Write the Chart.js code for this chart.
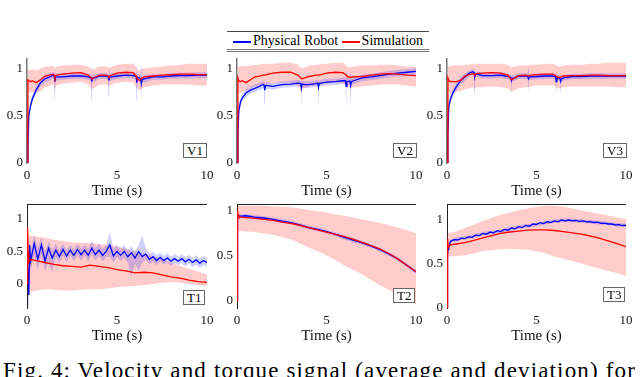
<!DOCTYPE html>
<html>
<head>
<meta charset="utf-8">
<script src="https://cdn.jsdelivr.net/npm/chart.js@4.4.1/dist/chart.umd.min.js"></script>
<style>
  html, body { margin: 0; padding: 0; background: #fff; }
  body { width: 640px; height: 377px; position: relative; overflow: hidden;
         font-family: 'Liberation Serif', 'DejaVu Serif', serif; color: #000; }
  canvas { position: absolute; }
  .tag { position: absolute; border: 1px solid #666; background: #fff; font-size: 13px;
         line-height: 13px; padding: 0 3px; }
  #legend { position: absolute; left: 227px; top: 31px; width: 202px; height: 17px;
            border-top: 1px solid #444; border-bottom: 3px double #777; font-size: 14px;
            line-height: 17px; text-align: center; white-space: nowrap; }
  #legend .sw { display: inline-block; width: 18px; height: 2px; vertical-align: middle; margin-right: 2px; }
  #caption { position: absolute; left: 3px; top: 359px; font-size: 23px; line-height: 23px;
             letter-spacing: 1.15px; white-space: nowrap; }
</style>
</head>
<body>
<div id="legend"><span class="sw" style="background:#00f"></span>Physical Robot <span class="sw" style="background:#f00"></span>Simulation</div>

<canvas id="v1"></canvas>
<canvas id="v2"></canvas>
<canvas id="v3"></canvas>
<canvas id="t1"></canvas>
<canvas id="t2"></canvas>
<canvas id="t3"></canvas>

<div class="tag" style="left:183px; top:143px">V1</div>
<div class="tag" style="left:393px; top:143px">V2</div>
<div class="tag" style="left:603px; top:143px">V3</div>
<div class="tag" style="left:183px; top:290px">T1</div>
<div class="tag" style="left:393px; top:288px">T2</div>
<div class="tag" style="left:603px; top:287px">T3</div>

<div id="caption">Fig. 4: Velocity and torque signal (average and deviation) for</div>

<script>
// time stamps (s)
const tV = [0, 0.05, 0.1, 0.2, 0.3, 0.5, 0.75, 1, 1.25, 1.45,
            1.51, 1.55, 1.59, 1.65, 2, 2.5, 3, 3.4, 3.56, 3.6, 3.64, 3.8,
            4, 4.4, 4.51, 4.55, 4.59, 4.7, 5, 5.5, 5.9,
            6.06, 6.1, 6.14, 6.25, 6.31, 6.35, 6.39, 6.5, 7, 7.5, 8, 8.5, 9, 9.5, 10];
const tF = [0, 0.03, 0.06, 0.1, 0.15, 0.2, 0.4, 0.6, 0.8, 1, 1.2, 1.4, 1.6, 1.8, 2, 2.2, 2.4, 2.6, 2.8, 3, 3.2, 3.4, 3.6, 3.8, 4, 4.2, 4.4, 4.6, 4.8, 5, 5.2, 5.4, 5.6, 5.8, 6, 6.2, 6.4, 6.6, 6.8, 7, 7.2, 7.4, 7.6, 7.8, 8, 8.2, 8.4, 8.6, 8.8, 9, 9.2, 9.4, 9.6, 9.8, 10];
const tC = [0, 0.03, 0.06, 0.1, 0.2, 0.5, 1, 1.5, 2, 2.5, 3, 3.5, 4, 4.5, 5, 5.5, 6, 6.5, 7, 7.5, 8, 8.5, 9, 9.5, 10];

const xTicks = [0, 5, 10];
const yTicks = [0, 0.5, 1];

// V1
const v1Red    = [0, 0.88, 0.87, 0.86, 0.87, 0.85, 0.88, 0.92, 0.93, 0.94, 0.93, 0.9, 0.92, 0.93, 0.94, 0.95, 0.955, 0.93, 0.9, 0.89, 0.895, 0.91, 0.93, 0.93, 0.92, 0.91, 0.92, 0.93, 0.95, 0.96, 0.955, 0.92, 0.9, 0.89, 0.875, 0.88, 0.89, 0.9, 0.91, 0.92, 0.93, 0.935, 0.94, 0.94, 0.935, 0.935];
const v1RedHi  = [0, 1.0, 0.99, 0.98, 0.99, 0.98, 1.0, 1.02, 1.02, 1.03, 1.02, 1.0, 1.01, 1.02, 1.03, 1.04, 1.04, 1.02, 1.0, 0.99, 0.99, 1.0, 1.02, 1.02, 1.01, 1.0, 1.01, 1.02, 1.04, 1.05, 1.05, 1.02, 1.0, 0.99, 0.98, 0.985, 0.99, 0.995, 1.0, 1.01, 1.02, 1.03, 1.04, 1.05, 1.05, 1.05];
const v1RedLo  = [0, 0.76, 0.75, 0.74, 0.75, 0.74, 0.76, 0.8, 0.82, 0.83, 0.81, 0.79, 0.8, 0.82, 0.84, 0.85, 0.86, 0.83, 0.79, 0.78, 0.785, 0.8, 0.83, 0.83, 0.82, 0.81, 0.82, 0.83, 0.85, 0.86, 0.85, 0.81, 0.8, 0.78, 0.77, 0.775, 0.78, 0.79, 0.8, 0.82, 0.83, 0.83, 0.83, 0.83, 0.82, 0.82];
const v1Blue   = [0, 0.15, 0.5, 0.61, 0.68, 0.77, 0.85, 0.89, 0.91, 0.93, 0.92, 0.86, 0.91, 0.91, 0.91, 0.92, 0.92, 0.91, 0.9, 0.86, 0.9, 0.9, 0.92, 0.92, 0.915, 0.87, 0.91, 0.91, 0.92, 0.93, 0.925, 0.92, 0.85, 0.9, 0.9, 0.89, 0.84, 0.88, 0.89, 0.91, 0.91, 0.92, 0.925, 0.925, 0.93, 0.93];
const v1BlueHi = [0, 0.2, 0.55, 0.65, 0.72, 0.81, 0.89, 0.93, 0.95, 0.96, 0.95, 1.0, 0.94, 0.95, 0.95, 0.95, 0.95, 0.94, 0.93, 1.09, 0.93, 0.94, 0.95, 0.95, 0.945, 1.1, 0.94, 0.95, 0.95, 0.96, 0.955, 0.95, 1.06, 0.93, 0.94, 0.92, 1.05, 0.91, 0.93, 0.94, 0.94, 0.95, 0.955, 0.955, 0.96, 0.96];
const v1BlueLo = [0, 0.1, 0.45, 0.57, 0.64, 0.73, 0.81, 0.85, 0.87, 0.9, 0.89, 0.68, 0.88, 0.87, 0.88, 0.89, 0.89, 0.88, 0.87, 0.66, 0.87, 0.86, 0.89, 0.89, 0.885, 0.7, 0.88, 0.87, 0.89, 0.9, 0.895, 0.89, 0.66, 0.87, 0.86, 0.86, 0.66, 0.85, 0.85, 0.88, 0.88, 0.89, 0.895, 0.895, 0.9, 0.9];

// V2
const v2Red    = [0, 0.9, 0.87, 0.86, 0.87, 0.85, 0.88, 0.91, 0.92, 0.93, 0.93, 0.93, 0.932, 0.935, 0.95, 0.96, 0.96, 0.93, 0.9, 0.89, 0.893, 0.9, 0.915, 0.93, 0.93, 0.93, 0.932, 0.935, 0.95, 0.96, 0.955, 0.935, 0.93, 0.92, 0.91, 0.907, 0.905, 0.907, 0.91, 0.915, 0.93, 0.94, 0.945, 0.94, 0.93, 0.925];
const v2RedHi  = [0, 1.02, 1.02, 1.02, 1.03, 1.02, 1.03, 1.04, 1.04, 1.05, 1.05, 1.05, 1.05, 1.05, 1.05, 1.06, 1.06, 1.04, 1.01, 1.0, 1.005, 1.01, 1.03, 1.04, 1.04, 1.04, 1.045, 1.05, 1.05, 1.06, 1.06, 1.04, 1.03, 1.02, 1.01, 1.01, 1.01, 1.015, 1.02, 1.03, 1.03, 1.04, 1.04, 1.03, 1.02, 1.02];
const v2RedLo  = [0, 0.78, 0.74, 0.74, 0.76, 0.76, 0.79, 0.81, 0.82, 0.83, 0.83, 0.83, 0.83, 0.83, 0.845, 0.85, 0.85, 0.82, 0.79, 0.78, 0.785, 0.79, 0.81, 0.82, 0.82, 0.82, 0.825, 0.83, 0.84, 0.85, 0.85, 0.83, 0.82, 0.81, 0.8, 0.8, 0.8, 0.8, 0.8, 0.81, 0.82, 0.83, 0.83, 0.83, 0.82, 0.81];
const v2Blue   = [0, 0.3, 0.55, 0.65, 0.69, 0.74, 0.77, 0.79, 0.81, 0.83, 0.825, 0.77, 0.815, 0.82, 0.81, 0.83, 0.835, 0.845, 0.84, 0.79, 0.835, 0.83, 0.83, 0.84, 0.845, 0.8, 0.84, 0.845, 0.855, 0.86, 0.87, 0.87, 0.81, 0.86, 0.865, 0.865, 0.82, 0.86, 0.87, 0.9, 0.91, 0.925, 0.94, 0.95, 0.96, 0.97];
const v2BlueHi = [0, 0.35, 0.6, 0.69, 0.73, 0.78, 0.81, 0.83, 0.85, 0.87, 0.86, 0.83, 0.85, 0.855, 0.845, 0.865, 0.87, 0.88, 0.875, 0.86, 0.87, 0.865, 0.865, 0.875, 0.88, 0.87, 0.875, 0.88, 0.89, 0.895, 0.905, 0.905, 1.0, 0.895, 0.9, 0.9, 0.98, 0.895, 0.905, 0.935, 0.945, 0.96, 0.975, 0.985, 0.995, 1.005];
const v2BlueLo = [0, 0.25, 0.5, 0.61, 0.65, 0.7, 0.73, 0.75, 0.77, 0.79, 0.79, 0.62, 0.78, 0.785, 0.775, 0.795, 0.8, 0.81, 0.805, 0.6, 0.8, 0.795, 0.795, 0.805, 0.81, 0.6, 0.805, 0.81, 0.82, 0.825, 0.835, 0.835, 0.6, 0.825, 0.83, 0.83, 0.6, 0.825, 0.835, 0.865, 0.875, 0.89, 0.905, 0.915, 0.925, 0.935];

// V3
const v3Red    = [0, 0.9, 0.87, 0.86, 0.86, 0.86, 0.87, 0.92, 0.935, 0.945, 0.94, 0.93, 0.94, 0.945, 0.95, 0.955, 0.95, 0.93, 0.89, 0.88, 0.885, 0.9, 0.925, 0.93, 0.925, 0.92, 0.925, 0.93, 0.935, 0.94, 0.94, 0.925, 0.92, 0.91, 0.905, 0.907, 0.91, 0.915, 0.92, 0.925, 0.925, 0.93, 0.93, 0.925, 0.925, 0.925];
const v3RedHi  = [0, 1.02, 1.02, 1.02, 1.03, 1.03, 1.03, 1.04, 1.04, 1.05, 1.045, 1.04, 1.045, 1.05, 1.05, 1.05, 1.05, 1.04, 1.02, 1.01, 1.015, 1.02, 1.03, 1.03, 1.03, 1.03, 1.035, 1.04, 1.04, 1.05, 1.05, 1.04, 1.03, 1.025, 1.02, 1.02, 1.02, 1.025, 1.03, 1.04, 1.04, 1.05, 1.05, 1.06, 1.06, 1.06];
const v3RedLo  = [0, 0.78, 0.74, 0.73, 0.74, 0.75, 0.76, 0.78, 0.79, 0.8, 0.795, 0.79, 0.795, 0.8, 0.8, 0.81, 0.8, 0.79, 0.76, 0.75, 0.755, 0.77, 0.79, 0.8, 0.8, 0.8, 0.805, 0.81, 0.82, 0.82, 0.82, 0.81, 0.8, 0.795, 0.79, 0.79, 0.79, 0.795, 0.8, 0.81, 0.81, 0.81, 0.81, 0.81, 0.8, 0.8];
const v3Blue   = [0, 0.3, 0.6, 0.68, 0.73, 0.8, 0.87, 0.91, 0.95, 0.965, 0.955, 0.91, 0.935, 0.94, 0.925, 0.925, 0.93, 0.915, 0.905, 0.87, 0.895, 0.9, 0.92, 0.92, 0.915, 0.89, 0.905, 0.91, 0.915, 0.92, 0.92, 0.915, 0.86, 0.895, 0.9, 0.895, 0.865, 0.89, 0.9, 0.915, 0.915, 0.92, 0.92, 0.92, 0.92, 0.92];
const v3BlueHi = [0, 0.36, 0.65, 0.72, 0.77, 0.84, 0.91, 0.95, 0.98, 0.995, 0.985, 0.96, 0.965, 0.97, 0.955, 0.955, 0.96, 0.945, 0.935, 0.92, 0.925, 0.93, 0.95, 0.95, 0.945, 1.02, 0.935, 0.94, 0.945, 0.95, 0.95, 0.945, 0.95, 0.925, 0.93, 0.925, 0.94, 0.92, 0.93, 0.945, 0.945, 0.95, 0.95, 0.95, 0.95, 0.95];
const v3BlueLo = [0, 0.24, 0.55, 0.64, 0.69, 0.76, 0.83, 0.87, 0.92, 0.935, 0.925, 0.74, 0.905, 0.91, 0.895, 0.895, 0.9, 0.885, 0.875, 0.74, 0.865, 0.87, 0.89, 0.89, 0.885, 0.74, 0.875, 0.88, 0.885, 0.89, 0.89, 0.885, 0.72, 0.865, 0.87, 0.865, 0.72, 0.86, 0.87, 0.885, 0.885, 0.89, 0.89, 0.89, 0.89, 0.89];

// T1
const t1Red    = [0, 0.86, 0.5, 0.33, 0.38, 0.36, 0.33, 0.3, 0.28, 0.27, 0.26, 0.29, 0.27, 0.25, 0.22, 0.2, 0.17, 0.18, 0.17, 0.14, 0.11, 0.09, 0.06, 0.035, 0.025];
const t1RedHi  = [0, 1.1, 0.9, 0.75, 0.74, 0.73, 0.71, 0.68, 0.66, 0.64, 0.63, 0.63, 0.62, 0.6, 0.58, 0.54, 0.5, 0.47, 0.43, 0.38, 0.33, 0.28, 0.23, 0.19, 0.15];
const t1RedLo  = [0, 0.5, -0.1, -0.2, -0.12, -0.1, -0.08, -0.09, -0.1, -0.1, -0.09, -0.08, -0.08, -0.07, -0.05, -0.04, -0.03, -0.02, 0, 0.02, 0.03, 0.02, 0, -0.02, -0.03];
const t1Blue   = [0, 0.3, 0.1, -0.17, 0.6, 0.35, 0.62, 0.38, 0.6, 0.35, 0.55, 0.4, 0.52, 0.42, 0.53, 0.43, 0.52, 0.44, 0.53, 0.45, 0.52, 0.44, 0.55, 0.45, 0.52, 0.44, 0.5, 0.6, 0.43, 0.5, 0.44, 0.5, 0.42, 0.48, 0.4, 0.5, 0.42, 0.46, 0.38, 0.42, 0.36, 0.41, 0.36, 0.4, 0.35, 0.39, 0.35, 0.39, 0.34, 0.38, 0.33, 0.37, 0.32, 0.36, 0.33];
const t1BlueHi = [0, 0.45, 0.3, 0.1, 0.75, 0.5, 0.75, 0.55, 0.72, 0.5, 0.66, 0.52, 0.62, 0.52, 0.62, 0.53, 0.6, 0.53, 0.62, 0.55, 0.6, 0.54, 0.66, 0.55, 0.62, 0.54, 0.6, 0.8, 0.55, 0.6, 0.53, 0.6, 0.52, 0.58, 0.5, 0.6, 0.75, 0.55, 0.47, 0.5, 0.44, 0.48, 0.43, 0.47, 0.42, 0.46, 0.42, 0.46, 0.41, 0.45, 0.4, 0.44, 0.39, 0.43, 0.4];
const t1BlueLo = [0, 0.15, -0.1, -0.35, 0.4, 0.2, 0.45, 0.22, 0.45, 0.2, 0.35, 0.18, 0.42, 0.32, 0.44, 0.33, 0.44, 0.35, 0.44, 0.36, 0.44, 0.35, 0.45, 0.36, 0.43, 0.35, 0.41, 0.42, 0.33, 0.41, 0.35, 0.41, 0.33, 0.1, 0.32, 0.2, 0.33, 0.37, 0.3, 0.34, 0.29, 0.34, 0.3, 0.33, 0.28, 0.32, 0.29, 0.32, 0.27, 0.31, 0.26, 0.3, 0.25, 0.29, 0.27];

// T2
const t2Red    = [0, 1.0, 0.95, 0.93, 0.925, 0.92, 0.91, 0.9, 0.89, 0.87, 0.855, 0.835, 0.81, 0.785, 0.76, 0.735, 0.71, 0.68, 0.645, 0.61, 0.57, 0.52, 0.46, 0.39, 0.32];
const t2RedHi  = [0, 1.05, 1.05, 1.05, 1.05, 1.05, 1.05, 1.05, 1.045, 1.04, 1.035, 1.02, 1.005, 0.99, 0.975, 0.955, 0.94, 0.92, 0.9, 0.88, 0.86, 0.835, 0.81, 0.78, 0.75];
const t2RedLo  = [0, 0.8, 0.78, 0.77, 0.77, 0.765, 0.76, 0.745, 0.73, 0.705, 0.68, 0.635, 0.59, 0.55, 0.5, 0.45, 0.39, 0.34, 0.29, 0.23, 0.17, 0.12, 0.065, 0.01, -0.045];
const t2Blue   = [0, 0.9, 0.93, 0.94, 0.935, 0.94, 0.925, 0.915, 0.9, 0.88, 0.865, 0.84, 0.81, 0.79, 0.765, 0.735, 0.7, 0.67, 0.64, 0.605, 0.565, 0.515, 0.46, 0.39, 0.32];
const t2BlueHi = [0, 0.92, 0.95, 0.96, 0.955, 0.96, 0.945, 0.935, 0.92, 0.9, 0.885, 0.86, 0.83, 0.81, 0.785, 0.755, 0.725, 0.695, 0.66, 0.625, 0.585, 0.535, 0.48, 0.41, 0.34];
const t2BlueLo = [0, 0.88, 0.91, 0.92, 0.915, 0.92, 0.905, 0.895, 0.88, 0.86, 0.845, 0.82, 0.79, 0.77, 0.745, 0.715, 0.675, 0.645, 0.62, 0.585, 0.545, 0.495, 0.44, 0.37, 0.3];

// T3
const t3Red    = [0, 0.78, 0.7, 0.69, 0.71, 0.72, 0.735, 0.76, 0.79, 0.815, 0.84, 0.855, 0.865, 0.875, 0.88, 0.878, 0.872, 0.86, 0.845, 0.83, 0.81, 0.785, 0.755, 0.725, 0.69];
const t3RedHi  = [0, 0.85, 0.85, 0.85, 0.846, 0.86, 0.9, 0.94, 0.98, 1.015, 1.05, 1.075, 1.1, 1.12, 1.14, 1.15, 1.15, 1.14, 1.12, 1.1, 1.08, 1.06, 1.04, 1.02, 1.0];
const t3RedLo  = [0, 0.6, 0.59, 0.58, 0.58, 0.585, 0.59, 0.615, 0.64, 0.65, 0.66, 0.667, 0.665, 0.655, 0.64, 0.615, 0.58, 0.555, 0.53, 0.5, 0.47, 0.445, 0.415, 0.39, 0.36];
const t3Blue   = [0, 0.6, 0.66, 0.68, 0.72, 0.75, 0.77, 0.765, 0.785, 0.78, 0.8, 0.795, 0.82, 0.815, 0.84, 0.83, 0.855, 0.845, 0.87, 0.86, 0.885, 0.875, 0.9, 0.89, 0.915, 0.905, 0.93, 0.92, 0.945, 0.94, 0.96, 0.95, 0.97, 0.96, 0.98, 0.97, 0.99, 0.98, 0.99, 0.98, 0.985, 0.975, 0.98, 0.97, 0.972, 0.962, 0.965, 0.953, 0.955, 0.945, 0.945, 0.935, 0.938, 0.928, 0.93];
const t3BlueHi = [0, 0.62, 0.68, 0.7, 0.77, 0.79, 0.81, 0.83, 0.855, 0.87, 0.885, 0.91, 0.93, 0.945, 0.96, 0.98, 0.995, 1.005, 1.005, 0.998, 0.99, 0.98, 0.97, 0.957, 0.95];
const t3BlueLo = [0, 0.58, 0.64, 0.66, 0.73, 0.75, 0.77, 0.79, 0.815, 0.83, 0.845, 0.87, 0.89, 0.905, 0.92, 0.94, 0.955, 0.965, 0.965, 0.958, 0.95, 0.94, 0.93, 0.917, 0.91];

const RED = '#ff0000';
const BLUE = '#0000ff';
const RED_BAND = 'rgba(255, 0, 0, 0.2)';
const BLUE_BAND = 'rgba(40, 40, 255, 0.22)';
const SERIF = 'Liberation Serif';

function pts(ts, vs) {
    return ts.map((t, i) => ({ x: t, y: vs[i] }));
}

// draws the thin frame line across the top of the torque plots
const topFrame = {
    id: 'topFrame',
    afterDraw(chart, args, opts) {
        if (!opts.show) return;
        const { ctx, chartArea: a } = chart;
        ctx.save();
        ctx.strokeStyle = '#222';
        ctx.lineWidth = 1;
        ctx.beginPath();
        ctx.moveTo(a.left, a.top + 0.5);
        ctx.lineTo(a.right, a.top + 0.5);
        ctx.stroke();
        ctx.restore();
    }
};

function makePanel(id, plotLeft, plotTop, plotRight, plotBottom, yMin, yMax, s, torque) {
    const canvas = document.getElementById(id);
    const w = plotRight - plotLeft + 27 + 10;
    const h = plotBottom - plotTop + 4 + 37;
    canvas.width = w;
    canvas.height = h;
    canvas.style.left = (plotLeft - 27) + 'px';
    canvas.style.top = (plotTop - 4) + 'px';

    const line = (data, color, order) => ({
        data: data, borderColor: color, borderWidth: 1.3, fill: false, order: order
    });
    const edge = (data, fill, bg, order) => ({
        data: data, borderColor: 'rgba(0,0,0,0)', borderWidth: 0,
        backgroundColor: bg, fill: fill, order: order
    });

    new Chart(canvas, {
        type: 'line',
        data: {
            datasets: [
                line(pts(s.tRed, s.red), RED, 0),
                line(pts(s.tBlue, s.blue), BLUE, 1),
                edge(pts(s.tBlueBand, s.blueHi), '+1', BLUE_BAND, 2),
                edge(pts(s.tBlueBand, s.blueLo), false, BLUE_BAND, 2),
                edge(pts(s.tRedBand, s.redHi), '+1', RED_BAND, 3),
                edge(pts(s.tRedBand, s.redLo), false, RED_BAND, 3)
            ]
        },
        plugins: [topFrame],
        options: {
            responsive: false,
            animation: false,
            devicePixelRatio: 1,
            layout: { padding: { left: 0, top: 4, right: 10, bottom: 0 } },
            elements: { point: { radius: 0 }, line: { tension: 0 } },
            plugins: {
                legend: { display: false },
                tooltip: { enabled: false },
                topFrame: { show: torque }
            },
            scales: {
                x: {
                    type: 'linear', min: 0, max: 10,
                    afterBuildTicks: (scale) => { scale.ticks = xTicks.map(v => ({ value: v })); },
                    afterFit: (scale) => { scale.height = 37; scale.paddingLeft = 0; scale.paddingRight = 0; },
                    grid: { display: false, drawTicks: false },
                    border: { display: false },
                    ticks: { padding: 5, color: '#111', maxRotation: 0,
                             font: { family: SERIF, size: 13, weight: 'normal' } },
                    title: { display: true, text: 'Time (s)', color: '#111', padding: 0,
                             font: { family: SERIF, size: 15, weight: 'normal' } }
                },
                y: {
                    type: 'linear', min: yMin, max: yMax,
                    afterBuildTicks: (scale) => { scale.ticks = yTicks.map(v => ({ value: v })); },
                    afterFit: (scale) => { scale.width = 27; scale.paddingTop = 0; scale.paddingBottom = 0; },
                    grid: { display: false, drawTicks: false },
                    border: { display: true, color: torque ? '#222' : '#777', width: torque ? 1 : 1.5 },
                    ticks: { padding: 4, color: '#111', font: { family: SERIF, size: 13, weight: 'normal' },
                             callback: (v) => String(v) }
                }
            }
        }
    });
}

makePanel('v1', 27, 59, 207, 163, 0, 1.1,
    { tRed: tV, red: v1Red, tBlue: tV, blue: v1Blue, tRedBand: tV, redHi: v1RedHi, redLo: v1RedLo,
      tBlueBand: tV, blueHi: v1BlueHi, blueLo: v1BlueLo }, false);
makePanel('v2', 237, 59, 416, 163, 0, 1.1,
    { tRed: tV, red: v2Red, tBlue: tV, blue: v2Blue, tRedBand: tV, redHi: v2RedHi, redLo: v2RedLo,
      tBlueBand: tV, blueHi: v2BlueHi, blueLo: v2BlueLo }, false);
makePanel('v3', 447, 59, 626, 163, 0, 1.1,
    { tRed: tV, red: v3Red, tBlue: tV, blue: v3Blue, tRedBand: tV, redHi: v3RedHi, redLo: v3RedLo,
      tBlueBand: tV, blueHi: v3BlueHi, blueLo: v3BlueLo }, false);

makePanel('t1', 27, 204, 207, 308, -0.37, 1.23,
    { tRed: tC, red: t1Red, tBlue: tF, blue: t1Blue, tRedBand: tC, redHi: t1RedHi, redLo: t1RedLo,
      tBlueBand: tF, blueHi: t1BlueHi, blueLo: t1BlueLo }, true);
makePanel('t2', 237, 204, 416, 308, -0.08, 1.07,
    { tRed: tC, red: t2Red, tBlue: tC, blue: t2Blue, tRedBand: tC, redHi: t2RedHi, redLo: t2RedLo,
      tBlueBand: tC, blueHi: t2BlueHi, blueLo: t2BlueLo }, true);
makePanel('t3', 447, 204, 626, 308, 0, 1.17,
    { tRed: tC, red: t3Red, tBlue: tF, blue: t3Blue, tRedBand: tC, redHi: t3RedHi, redLo: t3RedLo,
      tBlueBand: tC, blueHi: t3BlueHi, blueLo: t3BlueLo }, true);
</script>
</body>
</html>
